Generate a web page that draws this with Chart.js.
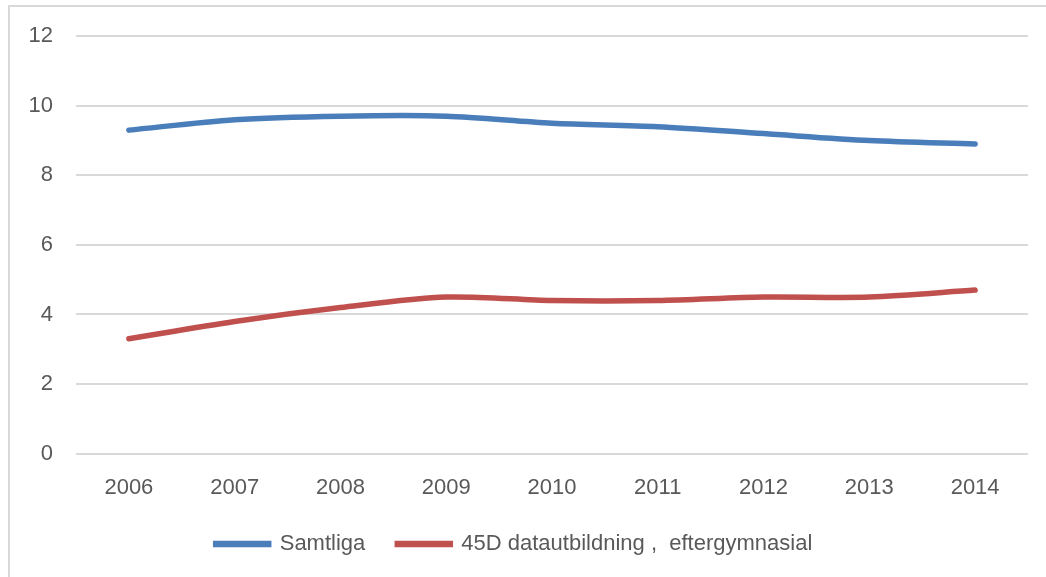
<!DOCTYPE html>
<html>
<head>
<meta charset="utf-8">
<script src="https://cdn.jsdelivr.net/npm/chart.js@4"></script>
<style>
  html, body { margin: 0; padding: 0; background: #fff; }
  #wrap { position: relative; width: 1046px; height: 577px; }
</style>
</head>
<body>
<div id="wrap"><canvas id="chart" width="1046" height="577"></canvas></div>
<script>
const years = ['2006', '2007', '2008', '2009', '2010', '2011', '2012', '2013', '2014'];
const samtliga = [9.3, 9.6, 9.7, 9.7, 9.5, 9.4, 9.2, 9.0, 8.9];
const datautbildning = [3.3, 3.8, 4.2, 4.5, 4.4, 4.4, 4.5, 4.5, 4.7];
const yTicks = [0, 2, 4, 6, 8, 10, 12];

// chart frame: only the left and top edges show in the picture
const frame = {
  id: 'frame',
  beforeDraw(chart) {
    const c = chart.ctx;
    c.save();
    c.strokeStyle = '#d9d9d9';
    c.lineWidth = 2;
    c.beginPath();
    c.moveTo(9, 577);
    c.lineTo(9, 6);
    c.lineTo(1046, 6);
    c.stroke();
    c.restore();
  }
};

Chart.defaults.font.family = '"Liberation Sans", Arial, sans-serif';
Chart.defaults.color = '#595959';

new Chart(document.getElementById('chart'), {
  type: 'line',
  data: {
    labels: years,
    datasets: [
      {
        label: 'Samtliga',
        data: samtliga,
        borderColor: '#4a7ebb',
        backgroundColor: '#4a7ebb',
        borderWidth: 5.5,
        borderCapStyle: 'round',
        pointRadius: 0,
        tension: 0.3
      },
      {
        label: '45D datautbildning ,  eftergymnasial',
        data: datautbildning,
        borderColor: '#c0504d',
        backgroundColor: '#c0504d',
        borderWidth: 5.5,
        borderCapStyle: 'round',
        pointRadius: 0,
        tension: 0.3
      }
    ]
  },
  options: {
    responsive: false,
    animation: false,
    layout: { padding: { left: 0, right: 18, top: 34.5, bottom: 12 } },
    plugins: {
      tooltip: { enabled: false },
      legend: {
        position: 'bottom',
        labels: {
          boxWidth: 53,
          boxHeight: 1,
          padding: 32,
          font: { size: 22 },
          color: '#595959'
        }
      }
    },
    scales: {
      x: {
        offset: true,
        afterFit(s) { s.height -= 14; },
        grid: { display: false },
        border: { display: false },
        ticks: { font: { size: 22 }, padding: 13.5, maxRotation: 0 }
      },
      y: {
        min: 0,
        max: 12,
        afterFit(s) { s.width = 76; },
        afterBuildTicks(s) { s.ticks = yTicks.map(v => ({ value: v })); },
        grid: { color: '#d9d9d9', lineWidth: 2, drawTicks: false },
        border: { display: false },
        ticks: { font: { size: 22 }, padding: 23 }
      }
    }
  },
  plugins: [frame]
});
</script>
</body>
</html>
